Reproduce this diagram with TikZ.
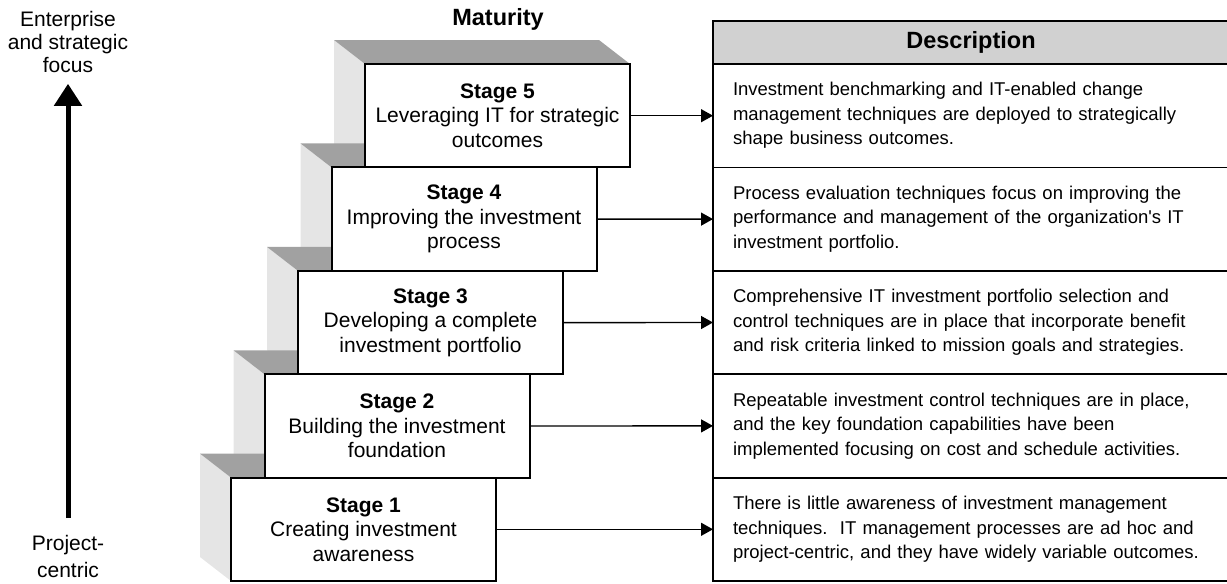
\documentclass[tikz,border=0pt]{standalone}
\usepackage{fontspec}
\setmainfont{Liberation Sans}
\usepackage{tikz}
\usetikzlibrary{arrows.meta, backgrounds}

\definecolor{topgray}{gray}{0.63}
\definecolor{sidegray}{gray}{0.9}
\definecolor{headgray}{gray}{0.82}

\tikzset{
  stagebox/.style={draw, line width=2pt, fill=white, outer sep=0pt, inner sep=0pt,
    minimum width=265pt, minimum height=103.4pt, align=center,
    font=\fontsize{21}{24.5}\selectfont},
  descrow/.style={draw, line width=1.8pt, outer sep=0pt, anchor=north west,
    minimum width=600pt, minimum height=103.4pt, text width=560pt,
    inner xsep=20pt, inner ysep=0pt, align=left,
    font=\fontsize{18.5}{24.5}\selectfont},
  deschead/.style={draw, line width=1.8pt, fill=headgray, outer sep=0pt,
    anchor=south west, minimum width=516pt, minimum height=43pt,
    font=\bfseries\fontsize{23.5}{28}\selectfont},
  sideface/.style={fill=sidegray},
  topface/.style={fill=topgray},
  stagelink/.style={-{Triangle[length=12pt,width=13pt]}, line width=1.4pt},
  focusarrow/.style={-{Triangle[length=22pt,width=27pt]}, line width=5pt},
  axislabel/.style={align=center, inner sep=0pt, anchor=north},
}

\begin{document}
\begin{tikzpicture}[x=1pt, y=-1pt]
  \useasboundingbox (0,0) rectangle (1227,584);

  % Axis on the left: project-centric up to strategic focus
  \node[axislabel, font=\fontsize{21}{23}\selectfont] (enterprise) at (68,11)
    {Enterprise\\and strategic\\focus};
  \node[axislabel, font=\fontsize{21}{27}\selectfont] (project) at (68,535)
    {Project-\\centric};
  \draw[focusarrow, shorten <=17pt, shorten >=11pt] (project.north) -- (enterprise.south);

  % Maturity staircase
  \node[font=\bfseries\fontsize{23.5}{28}\selectfont] (maturity) at (498,19) {Maturity};

  \node[stagebox] (s5) at (497.5,115.7) {\textbf{Stage 5}\\Leveraging IT for strategic\\outcomes};
  \node[stagebox] (s4) at (464,219.1) {\textbf{Stage 4}\\Improving the investment\\process};
  \node[stagebox] (s3) at (430.5,322.6) {\textbf{Stage 3}\\Developing a complete\\investment portfolio};
  \node[stagebox] (s2) at (397,426) {\textbf{Stage 2}\\Building the investment\\foundation};
  \node[stagebox] (s1) at (363.5,529.3) {\textbf{Stage 1}\\Creating investment\\awareness};

  % Shaded faces behind each step
  \begin{scope}[on background layer]
    \fill[sideface] (s5.north west) -- ++(-31,-24) -- ++(0,103.4) -- (s5.south west) -- cycle;
    \fill[topface] (s5.north west) -- ++(-31,-24) -- ++(265,0) -- (s5.north east) -- cycle;
    \fill[sideface] (s4.north west) -- ++(-31,-24) -- ++(0,103.4) -- (s4.south west) -- cycle;
    \fill[topface] (s4.north west) -- ++(-31,-24) -- ++(265,0) -- (s4.north east) -- cycle;
    \fill[sideface] (s3.north west) -- ++(-31,-24) -- ++(0,103.4) -- (s3.south west) -- cycle;
    \fill[topface] (s3.north west) -- ++(-31,-24) -- ++(265,0) -- (s3.north east) -- cycle;
    \fill[sideface] (s2.north west) -- ++(-31,-24) -- ++(0,103.4) -- (s2.south west) -- cycle;
    \fill[topface] (s2.north west) -- ++(-31,-24) -- ++(265,0) -- (s2.north east) -- cycle;
    \fill[sideface] (s1.north west) -- ++(-31,-24) -- ++(0,103.4) -- (s1.south west) -- cycle;
    \fill[topface] (s1.north west) -- ++(-31,-24) -- ++(265,0) -- (s1.north east) -- cycle;
  \end{scope}

  % Description table, cut off at the right edge
  \begin{scope}
    \clip (0,0) rectangle (1227,584);
    \node[deschead] (desc) at (713,64) {Description};
    \node[descrow] (d5) at (713,64)
      {Investment benchmarking and IT-enabled change\\management techniques are deployed to strategically\\shape business outcomes.};
    \node[descrow] (d4) at (713,167.4)
      {Process evaluation techniques focus on improving the\\performance and management of the organization\textquotesingle s IT\\investment portfolio.};
    \node[descrow] (d3) at (713,270.8)
      {Comprehensive IT investment portfolio selection and\\control techniques are in place that incorporate benefit\\and risk criteria linked to mission goals and strategies.};
    \node[descrow] (d2) at (713,374.2)
      {Repeatable investment control techniques are in place,\\and the key foundation capabilities have been\\implemented focusing on cost and schedule activities.};
    \node[descrow] (d1) at (713,477.6)
      {There is little awareness of investment management\\techniques.\ \ IT management processes are ad hoc and\\project-centric, and they have widely variable outcomes.};
  \end{scope}

  % Links from each stage to its description
  \draw[stagelink] (s5.east) -- (d5.west);
  \draw[stagelink] (s4.east) -- (d4.west);
  \draw[stagelink] (s3.east) -- (d3.west);
  \draw[stagelink] (s2.east) -- (d2.west);
  \draw[stagelink] (s1.east) -- (d1.west);
\end{tikzpicture}
\end{document}
